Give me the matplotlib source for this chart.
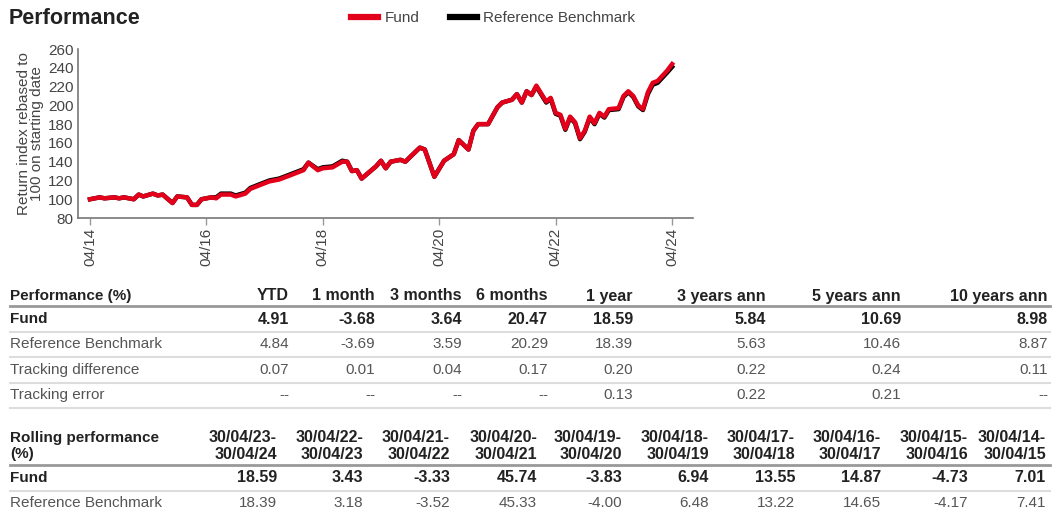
import matplotlib
matplotlib.use("Agg")
import matplotlib.pyplot as plt
import matplotlib.dates as mdates
import pandas as pd

# ---- chart data ----
dates = ["2014-04", "2014-06", "2014-07", "2014-09", "2014-10", "2014-11", "2015-01", "2015-02",
         "2015-03", "2015-05", "2015-06", "2015-07", "2015-09", "2015-10", "2015-12", "2016-01",
         "2016-02", "2016-03", "2016-05", "2016-06", "2016-07", "2016-09", "2016-10", "2016-12",
         "2017-01", "2017-03", "2017-05", "2017-07", "2017-09", "2017-11", "2017-12", "2018-01",
         "2018-03", "2018-04", "2018-06", "2018-08", "2018-09", "2018-10", "2018-11", "2018-12",
         "2019-02", "2019-03", "2019-04", "2019-05", "2019-06", "2019-08", "2019-09", "2019-10",
         "2019-12", "2020-01", "2020-03", "2020-05", "2020-07", "2020-08", "2020-10", "2020-11",
         "2020-12", "2021-02", "2021-04", "2021-05", "2021-07", "2021-08", "2021-09", "2021-10",
         "2021-11", "2021-12", "2022-02", "2022-03", "2022-04", "2022-05", "2022-06", "2022-07",
         "2022-08", "2022-09", "2022-10", "2022-11", "2022-12", "2023-01", "2023-02", "2023-03",
         "2023-05", "2023-06", "2023-07", "2023-08", "2023-09", "2023-10", "2023-11", "2023-12",
         "2024-01", "2024-03", "2024-04"]

fund = [100, 102, 101, 102, 101, 102, 100, 105, 103, 106, 104, 105, 96, 103, 102, 94,
        94, 100, 102, 101, 105, 105, 103, 106, 111, 115, 119, 121, 125, 129, 131, 139,
        131, 133, 134, 140, 140, 130, 131, 122, 131, 135, 141, 133, 140, 142, 140, 145,
        155, 153, 124, 141, 148, 163, 153, 173, 180, 180, 198, 203, 206, 212, 203, 215,
        211, 221, 204, 208, 192, 190, 175, 188, 182, 165, 173, 188, 181, 192, 188, 196,
        197, 210, 215, 210, 200, 196, 214, 224, 226, 237, 244]

benchmark = [100, 102, 101, 102, 101, 102, 100, 105, 103, 106, 104, 105, 96, 103, 102, 94,
             94, 100, 102, 102, 106, 106, 104, 107, 112, 116, 120, 122, 126, 130, 132, 139,
             132, 134, 135, 141, 140, 130, 131, 122, 131, 135, 141, 133, 140, 142, 140, 145,
             155, 153, 124, 141, 148, 163, 153, 173, 180, 180, 198, 203, 206, 212, 203, 215,
             211, 220, 203, 207, 191, 189, 174, 187, 181, 164, 172, 187, 180, 191, 187, 195,
             196, 209, 214, 209, 199, 195, 212, 222, 224, 235, 241]

# ---- performance table ----
perf_cols = ["YTD", "1 month", "3 months", "6 months", "1 year",
             "3 years ann", "5 years ann", "10 years ann"]
perf_fund = ["4.91", "-3.68", "3.64", "20.47", "18.59", "5.84", "10.69", "8.98"]
perf_bench = ["4.84", "-3.69", "3.59", "20.29", "18.39", "5.63", "10.46", "8.87"]
perf_tdiff = ["0.07", "0.01", "0.04", "0.17", "0.20", "0.22", "0.24", "0.11"]
perf_terr = ["--", "--", "--", "--", "0.13", "0.22", "0.21", "--"]

# ---- rolling performance table ----
roll_cols = ["30/04/23-\n30/04/24", "30/04/22-\n30/04/23", "30/04/21-\n30/04/22",
             "30/04/20-\n30/04/21", "30/04/19-\n30/04/20", "30/04/18-\n30/04/19",
             "30/04/17-\n30/04/18", "30/04/16-\n30/04/17", "30/04/15-\n30/04/16",
             "30/04/14-\n30/04/15"]
roll_fund = ["18.59", "3.43", "-3.33", "45.74", "-3.83", "6.94", "13.55", "14.87", "-4.73", "7.01"]
roll_bench = ["18.39", "3.18", "-3.52", "45.33", "-4.00", "6.48", "13.22", "14.65", "-4.17", "7.41"]

RED = "#e2001a"
DARK = "#222222"
GREY = "#555555"

plt.rcParams["font.family"] = ["Liberation Sans", "DejaVu Sans"]
narrow = ["Liberation Sans Narrow", "Liberation Sans", "DejaVu Sans"]

fig = plt.figure(figsize=(10.54, 5.13), dpi=100)

# ---- line chart ----
ax = fig.add_axes([0.074, 0.575, 0.5835, 0.3294])
x = pd.to_datetime(dates)
ax.plot(x, benchmark, color="black", lw=3.2, solid_joinstyle="round", label="Reference Benchmark", zorder=2)
ax.plot(x, fund, color=RED, lw=3.2, solid_joinstyle="round", label="Fund", zorder=3)

ax.set_ylim(80, 260)
ax.set_yticks(range(80, 261, 20))
ax.set_xlim(pd.Timestamp("2014-01-16"), pd.Timestamp("2024-08-10"))
ax.set_xticks(pd.to_datetime(["2014-04", "2016-04", "2018-04", "2020-04", "2022-04", "2024-04"]))
ax.xaxis.set_major_formatter(mdates.DateFormatter("%m/%y"))
for s in ["top", "right"]:
    ax.spines[s].set_visible(False)
for s in ["left", "bottom"]:
    ax.spines[s].set_color("#777777")
    ax.spines[s].set_linewidth(1.2)
ax.tick_params(axis="y", length=0, pad=3, labelsize=11, labelcolor="#444444")
ax.tick_params(axis="x", length=5, width=1, color="#999999", pad=2, labelsize=11,
               labelcolor="#444444", labelrotation=90)
for lab in ax.get_xticklabels() + ax.get_yticklabels():
    lab.set_family(narrow)
ax.set_ylabel("Return index rebased to\n100 on starting date", fontsize=11,
              color="#444444", linespacing=0.95, labelpad=3)

# title and legend
fig.text(9 / 1054, 1 - 18 / 513, "Performance", fontsize=15.5, color=DARK,
         va="center", ha="left", family=narrow, weight="bold")
h, l = ax.get_legend_handles_labels()
leg = fig.legend(h[::-1], l[::-1], loc="center", bbox_to_anchor=(493 / 1054, 1 - 18 / 513),
                 ncol=2, frameon=False, handlelength=1.8, handletextpad=0.4,
                 columnspacing=2.0, prop={"family": narrow, "size": 11})
for line in leg.get_lines():
    line.set_linewidth(4.5)
for t in leg.get_texts():
    t.set_color("#444444")

# ---- tables (overlay in pixel coordinates) ----
tx = fig.add_axes([0, 0, 1, 1])
tx.set_xlim(0, 1054)
tx.set_ylim(513, 0)
tx.axis("off")

L, R = 10, 1050
FS, FSB = 11, 11.5

perf_right = [289, 375, 462, 548, 633, 766, 901, 1048]
tx.text(L, 296, "Performance (%)", fontsize=FS, weight="bold", color=DARK, va="center")
for c, xr in zip(perf_cols, perf_right):
    tx.text(xr, 296, c, fontsize=FSB, weight="bold", color=DARK, va="center", ha="right")
tx.plot([L, R], [305.5, 305.5], color="#999999", lw=2)

rows = [("Fund", perf_fund, True, 319, 331.5),
        ("Reference Benchmark", perf_bench, False, 344, 357),
        ("Tracking difference", perf_tdiff, False, 370, 383),
        ("Tracking error", perf_terr, False, 395, 408)]
for name, vals, bold, yy, yl in rows:
    kw = dict(va="center", weight="bold" if bold else "normal", color=DARK if bold else GREY)
    tx.text(L, yy, name, fontsize=FS, **kw)
    for v, xr in zip(vals, perf_right):
        tx.text(xr, yy, v, ha="right", fontsize=FSB if bold else FS, **kw)
    tx.plot([L, R], [yl, yl], color="#dddddd", lw=1.5)

roll_right = [277, 363, 450, 537, 622, 709, 795, 881, 968, 1046]
tx.text(L, 446, "Rolling performance\n(%)", fontsize=FS, weight="bold", color=DARK,
        va="center", linespacing=1.15)
for c, xr in zip(roll_cols, roll_right):
    tx.text(xr, 446, c, fontsize=FSB, weight="bold", color=DARK, va="center", ha="right",
            linespacing=1.1, multialignment="right")
tx.plot([L, R], [464.5, 464.5], color="#999999", lw=2)

rows = [("Fund", roll_fund, True, 478, 490.5),
        ("Reference Benchmark", roll_bench, False, 503, None)]
for name, vals, bold, yy, yl in rows:
    kw = dict(va="center", weight="bold" if bold else "normal", color=DARK if bold else GREY)
    tx.text(L, yy, name, fontsize=FS, **kw)
    for v, xr in zip(vals, roll_right):
        tx.text(xr, yy, v, ha="right", fontsize=FSB if bold else FS, **kw)
    if yl:
        tx.plot([L, R], [yl, yl], color="#dddddd", lw=1.5)

fig.savefig("out.png", dpi=100)
